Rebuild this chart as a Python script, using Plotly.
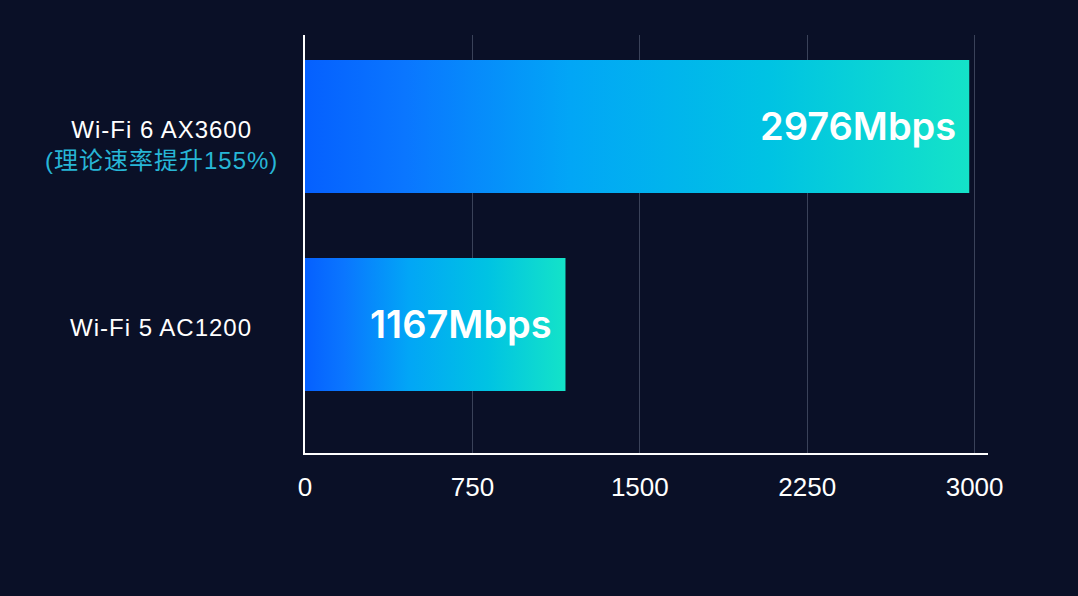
import plotly.graph_objects as go

categories = ["Wi-Fi 5 AC1200", "Wi-Fi 6 AX3600"]
sub_labels = ["", "(理论速率提升155%)"]
values = [1167, 2976]
value_labels = ["1167Mbps", "2976Mbps"]
tick_vals = [0, 750, 1500, 2250, 3000]
tick_text = ["0", "750", "1500", "2250", "3000"]

BG = "#0a1027"
bar_w = 0.672
grad = [[0.0, "#0560ff"], [0.15, "#0a76ff"], [0.4, "#02a6f6"],
        [0.7, "#00c3e3"], [1.0, "#14e3c8"]]
LABEL_FONT = "Liberation Sans, Noto Sans CJK SC"

plot_l, plot_r = 305, 988
label_cx = (161 - plot_l) / (plot_r - plot_l)

fig = go.Figure()
for i, (cat, v) in enumerate(zip(categories, values)):
    y0, y1 = i - bar_w / 2, i + bar_w / 2
    fig.add_trace(go.Scatter(
        x=[0, v, v, 0, 0], y=[y0, y0, y1, y1, y0],
        mode="lines", line=dict(width=0), fill="toself",
        fillgradient=dict(type="horizontal", colorscale=grad),
        hoverinfo="skip", showlegend=False,
    ))
    fig.add_annotation(
        x=v, y=i, xref="x", yref="y", text=value_labels[i],
        xanchor="right", yanchor="middle", xshift=-11, showarrow=False,
        font=dict(family="Inter", size=38, color="white", weight=600),
    )
    if sub_labels[i]:
        txt = (f"<span style='color:#ffffff;letter-spacing:1px'>{cat}</span><br>"
               f"<span style='color:#27b6d6;letter-spacing:1px'>{sub_labels[i]}</span>")
        ysh = -19
    else:
        txt = f"<span style='letter-spacing:1px'>{cat}</span>"
        ysh = -3
    fig.add_annotation(
        x=label_cx, y=i, xref="paper", yref="y", text=txt, showarrow=False,
        xanchor="center", yanchor="middle", align="center", yshift=ysh,
        font=dict(family=LABEL_FONT, size=24, color="white"),
    )

fig.update_layout(
    width=1078, height=596,
    margin=dict(l=plot_l, r=1078 - plot_r, t=35, b=143),
    paper_bgcolor=BG, plot_bgcolor=BG,
    xaxis=dict(
        range=[0, 3060], tickvals=tick_vals, ticktext=tick_text,
        showgrid=True, gridcolor="#3a4259", gridwidth=1, zeroline=False,
        showline=True, linecolor="white", linewidth=1.5,
        ticks="", ticklabelstandoff=10,
        tickfont=dict(family="Liberation Sans", size=26, color="white"),
        fixedrange=True,
    ),
    yaxis=dict(
        range=[-0.649, 1.462], showgrid=False, zeroline=False,
        showticklabels=False, ticks="",
        showline=True, linecolor="white", linewidth=1.5,
        fixedrange=True,
    ),
)

fig.write_html(
    "out.html",
    config={"displayModeBar": False},
    post_script="document.body.style.margin='0';document.body.style.background='%s';" % BG,
)
